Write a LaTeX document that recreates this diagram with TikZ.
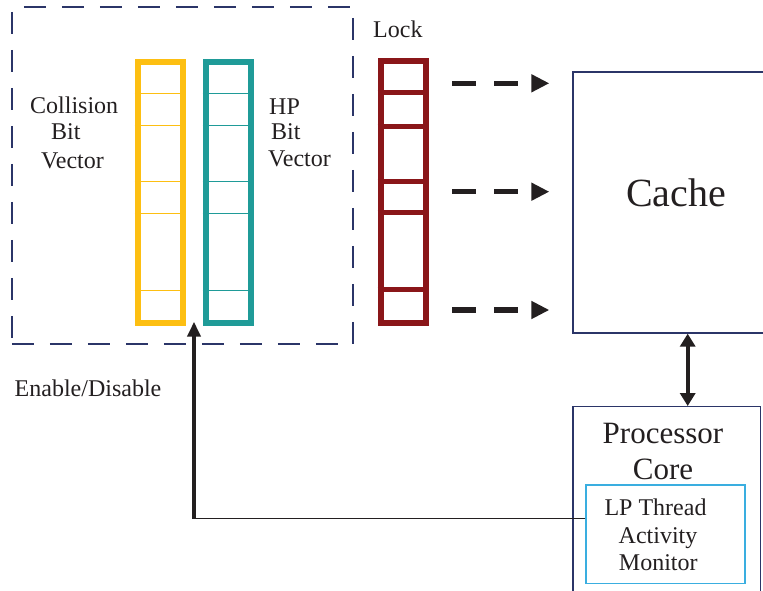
\documentclass[tikz,border=0pt]{standalone}
\usepackage{fontspec}
\setmainfont{Liberation Serif}
\usetikzlibrary{arrows.meta}
\definecolor{cyel}{HTML}{FDBF12}
\definecolor{cteal}{HTML}{1F9B98}
\definecolor{cred}{HTML}{8A1619}
\definecolor{cnavy}{HTML}{2B3568}
\definecolor{cblue}{HTML}{3AAEE0}
\definecolor{cblk}{HTML}{231F20}
\begin{document}
\begin{tikzpicture}[x=1pt,y=-1pt,
  vec/.style={draw, line width=6pt, rectangle, inner sep=0pt, minimum width=45.5pt, minimum height=261pt},
  thindiv/.style={line width=1pt},
  lockdiv/.style={line width=5.5pt, cred},
  txt/.style={font=\fontsize{24}{28}\selectfont, text=cblk, inner sep=0pt, anchor=base west},
  ctxt/.style={text=cblk, inner sep=0pt, anchor=base},
  boxnavy/.style={draw=cnavy, line width=1.3pt, rectangle, inner sep=0pt},
  grpline/.style={draw=cnavy, line width=1.6pt, dash pattern=on 22pt off 16pt},
  dasharr/.style={cblk, line width=5.5pt, dash pattern=on 24pt off 18pt, -{Triangle[length=18pt,width=17pt]}},
  dblarr/.style={cblk, line width=4pt, {Triangle[length=13pt,width=15pt]}-{Triangle[length=13pt,width=15pt]}},
  uparr/.style={cblk, line width=4pt, -{Triangle[length=15pt,width=13pt]}},
  thinline/.style={cblk, line width=1.5pt}
]
\useasboundingbox (0,0) rectangle (763,591);
\clip (0,0) rectangle (763,591);

% dashed group
\node[rectangle, inner sep=0pt, minimum width=341pt, minimum height=337pt] (grp) at (182.5,175.5) {};
\draw[grpline, dash phase=26pt] (grp.north west) -- (grp.north east);
\draw[grpline, dash phase=33pt] (grp.north west) -- (grp.south west);
\draw[grpline, dash phase=27pt] (grp.north east) -- (grp.south east);
\draw[grpline, dash phase=0pt] (grp.south west) -- (grp.south east);

% collision bit vector
\node[vec, draw=cyel] (cv) at (160.25,192.5) {};
\foreach \yy in {93.3,126,181.7,213.3,290}
  \draw[cyel, thindiv] (cv.west |- 0,\yy) -- (cv.east |- 0,\yy);

% HP bit vector
\node[vec, draw=cteal] (hv) at (228.25,192.5) {};
\foreach \yy in {93.3,126,181.7,213.3,290}
  \draw[cteal, thindiv] (hv.west |- 0,\yy) -- (hv.east |- 0,\yy);

% lock vector
\node[vec, draw=cred, minimum width=45.6pt, minimum height=261.7pt] (lv) at (403.5,191.85) {};
\foreach \yy in {92.7,126.7,181.7,212.7,289.3}
  \draw[lockdiv] (lv.west |- 0,\yy) -- (lv.east |- 0,\yy);

% cache and processor
\node[boxnavy, minimum width=207pt, minimum height=261pt] (cache) at (676.5,202.5) {};
\node[ctxt, font=\fontsize{40}{46}\selectfont] (cachetxt) at (676,206) {Cache};

\node[boxnavy, minimum width=187.7pt, minimum height=213.3pt] (proc) at (666.85,513.35) {};
\node[ctxt, font=\fontsize{31}{36}\selectfont] (proc1) at (663,443) {Processor};
\node[ctxt, font=\fontsize{31}{36}\selectfont] (proc2) at (663,479.5) {Core};

\node[draw=cblue, line width=1.2pt, rectangle, inner sep=0pt, minimum width=159pt, minimum height=98.3pt] (lp) at (665.5,534.15) {};
\node[ctxt, font=\fontsize{24}{28}\selectfont] (lp1) at (655.5,515) {LP Thread};
\node[ctxt, font=\fontsize{24}{28}\selectfont] (lp2) at (658,543.3) {Activity};
\node[ctxt, font=\fontsize{24}{28}\selectfont] (lp3) at (658.3,570.7) {Monitor};

% texts
\node[txt] (locktxt) at (373,37.3) {Lock};
\node[txt] (col1) at (30,114) {Collision};
\node[txt] (col2) at (51,140) {Bit};
\node[txt] (col3) at (41,168) {Vector};
\node[txt] (hp1) at (269,115) {HP};
\node[txt] (hp2) at (271,140) {Bit};
\node[txt] (hp3) at (268,167) {Vector};
\node[txt] (endis) at (14.5,396.7) {Enable/Disable};

% dashed arrows lock -> cache
\foreach \yy in {83.3,191.7,310}
  \draw[dasharr, shorten <=22.7pt, shorten >=23pt] (lv.east |- 0,\yy) -- (cache.west |- 0,\yy);

% cache <-> processor
\draw[dblarr] ([xshift=11.2pt]cache.south) -- ([xshift=11.2pt]cache.south |- proc.north);

% enable/disable feedback
\coordinate (corner) at (194,518.5);
\coordinate (entip) at (194,321.7);
\draw[thinline] (lp.west |- corner) -- (corner);
\draw[uparr] (corner) -- (entip);
\end{tikzpicture}
\end{document}
